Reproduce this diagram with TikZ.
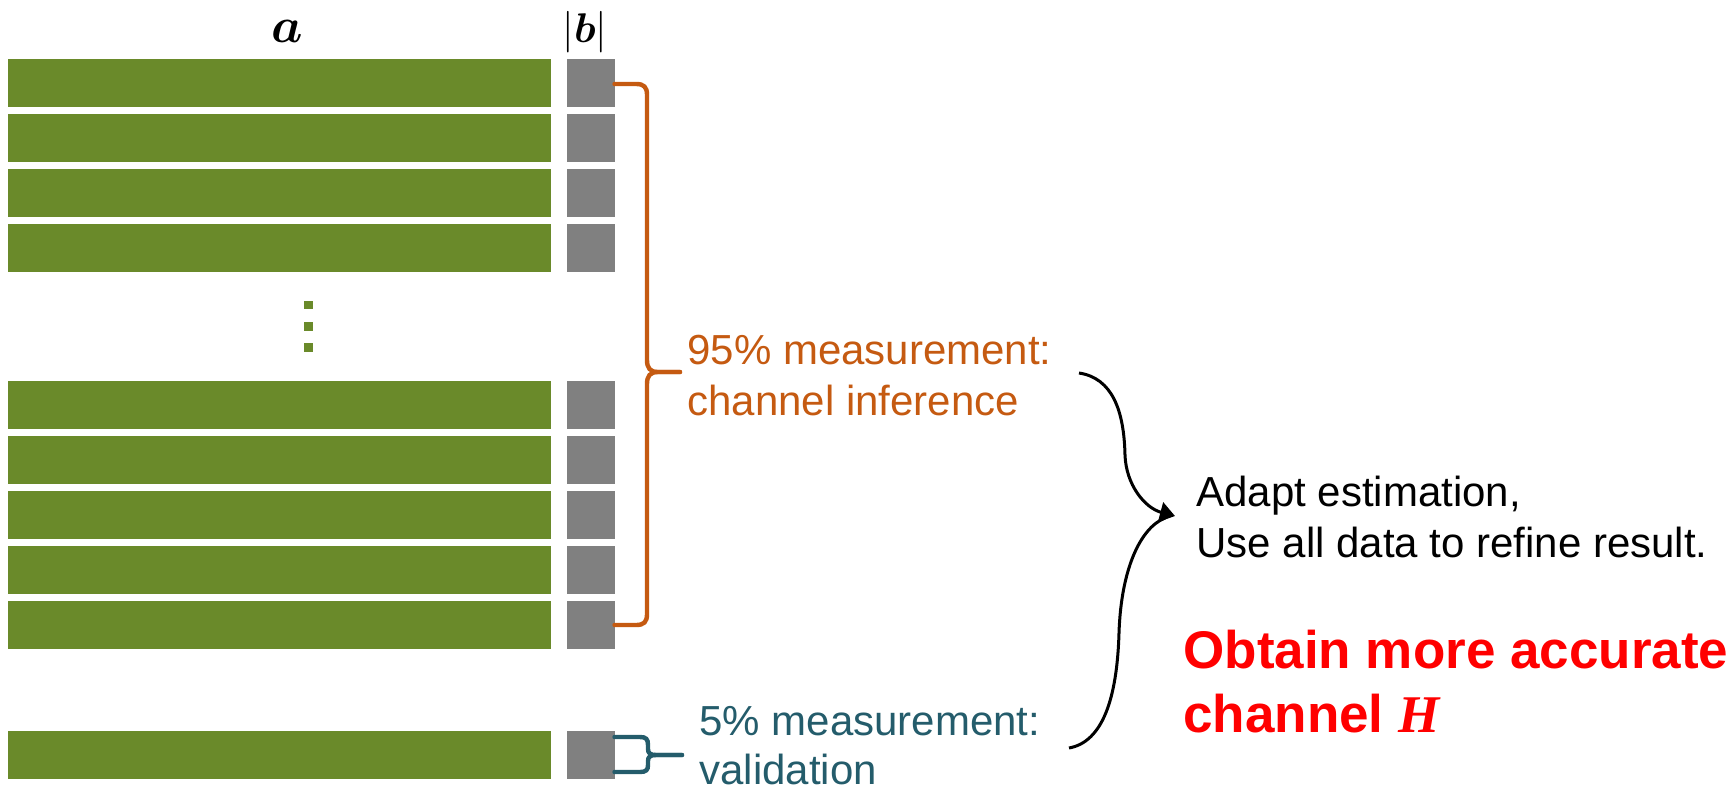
\documentclass[tikz,border=0pt]{standalone}
\usepackage{fontspec}
\usepackage{bm}
\setmainfont{Liberation Sans}
\newfontfamily\serifbi{Liberation Serif}
\usetikzlibrary{arrows.meta}
\definecolor{barGreen}{HTML}{6A8A2A}
\definecolor{boxGray}{HTML}{808080}
\definecolor{braceOrange}{HTML}{C55A11}
\definecolor{braceTeal}{HTML}{245C6B}
\begin{document}
\begin{tikzpicture}[x=0.5pt,y=-0.5pt,
  lbl/.style={anchor=base west,inner sep=0pt,font=\fontsize{21}{25}\selectfont},
  redlbl/.style={anchor=base west,inner sep=0pt,text=red,font=\fontsize{26.5}{32}\selectfont\bfseries},
  hdr/.style={anchor=base,inner sep=0pt,font=\fontsize{24.88}{30}\selectfont},
  hdrsmall/.style={anchor=base,inner sep=0pt,font=\fontsize{21}{26}\selectfont},
  obrace/.style={draw=braceOrange,line width=2.2pt,line cap=round},
  tbrace/.style={draw=braceTeal,line width=2.2pt,line cap=round},
  conn/.style={draw=black,line width=1.5pt}]
\useasboundingbox (0,0) rectangle (1734,793);
% rows
\foreach \y in {59,114,169,224,381,436,491,546,601,731}{
  \fill[barGreen] (7.5,\y) rectangle (550.5,\y+47.7);
  \fill[boxGray] (567,\y) rectangle (614.5,\y+47.7);
}
% vertical dots
\foreach \y in {305,326.5,347.5}{
  \fill[barGreen] (304,\y-4.3) rectangle (312.7,\y+4.3);
}
% headers
\node[hdr] (ha) at (287,42) {$\bm{a}$};
\node[hdrsmall] (hb) at (585,42) {$|\bm{b}|$};
% orange brace
\draw[obrace] (614.5,84) -- (636,84) .. controls (644,84) and (647,87) .. (647,95) -- (647,360) .. controls (647,368) and (650,372) .. (658,372) -- (680,372);
\draw[obrace] (680,372) -- (658,372) .. controls (650,372) and (647,376) .. (647,384) -- (647,614) .. controls (647,622) and (644,625) .. (636,625) -- (614.5,625);
% teal brace
\draw[tbrace] (614.5,737) -- (640,737) .. controls (646,737) and (648,739) .. (648,745) -- (648,749) .. controls (648,753) and (650,755) .. (656,755) -- (682,755);
\draw[tbrace] (682,755) -- (656,755) .. controls (650,755) and (648,757) .. (648,761) -- (648,765) .. controls (648,770) and (646,772) .. (640,772) -- (614.5,772);
% texts
\node[lbl,text=braceOrange] (inf1) at (687,364) {95\% measurement:};
\node[lbl,text=braceOrange] (inf2) at (687,415) {channel inference};
\node[lbl,text=braceTeal] (val1) at (699,735) {5\% measurement:};
\node[lbl,text=braceTeal] (val2) at (699,784) {validation};
\node[lbl] (ad1) at (1196,506) {Adapt estimation,};
\node[lbl] (ad2) at (1196,557) {Use all data to refine result.};
\node[redlbl] (ob1) at (1183,668) {Obtain more accurate};
\node[redlbl] (ob2) at (1183,732) {channel {\serifbi\bfseries\itshape H}};
% connectors
\coordinate (tip) at (1175,516);
\coordinate (upStart) at (1079,373);
\coordinate (loStart) at (1069,748);
\draw[conn] (loStart) .. controls (1102,742) and (1117,700) .. (1119,633) .. controls (1121,570) and (1140,528) .. (1165,518);
\draw[conn,-{Triangle[length=7.5pt,width=10pt]}] (upStart) .. controls (1112,378) and (1124,410) .. (1125,455) .. controls (1126,485) and (1145,508) .. (tip);
\end{tikzpicture}
\end{document}
